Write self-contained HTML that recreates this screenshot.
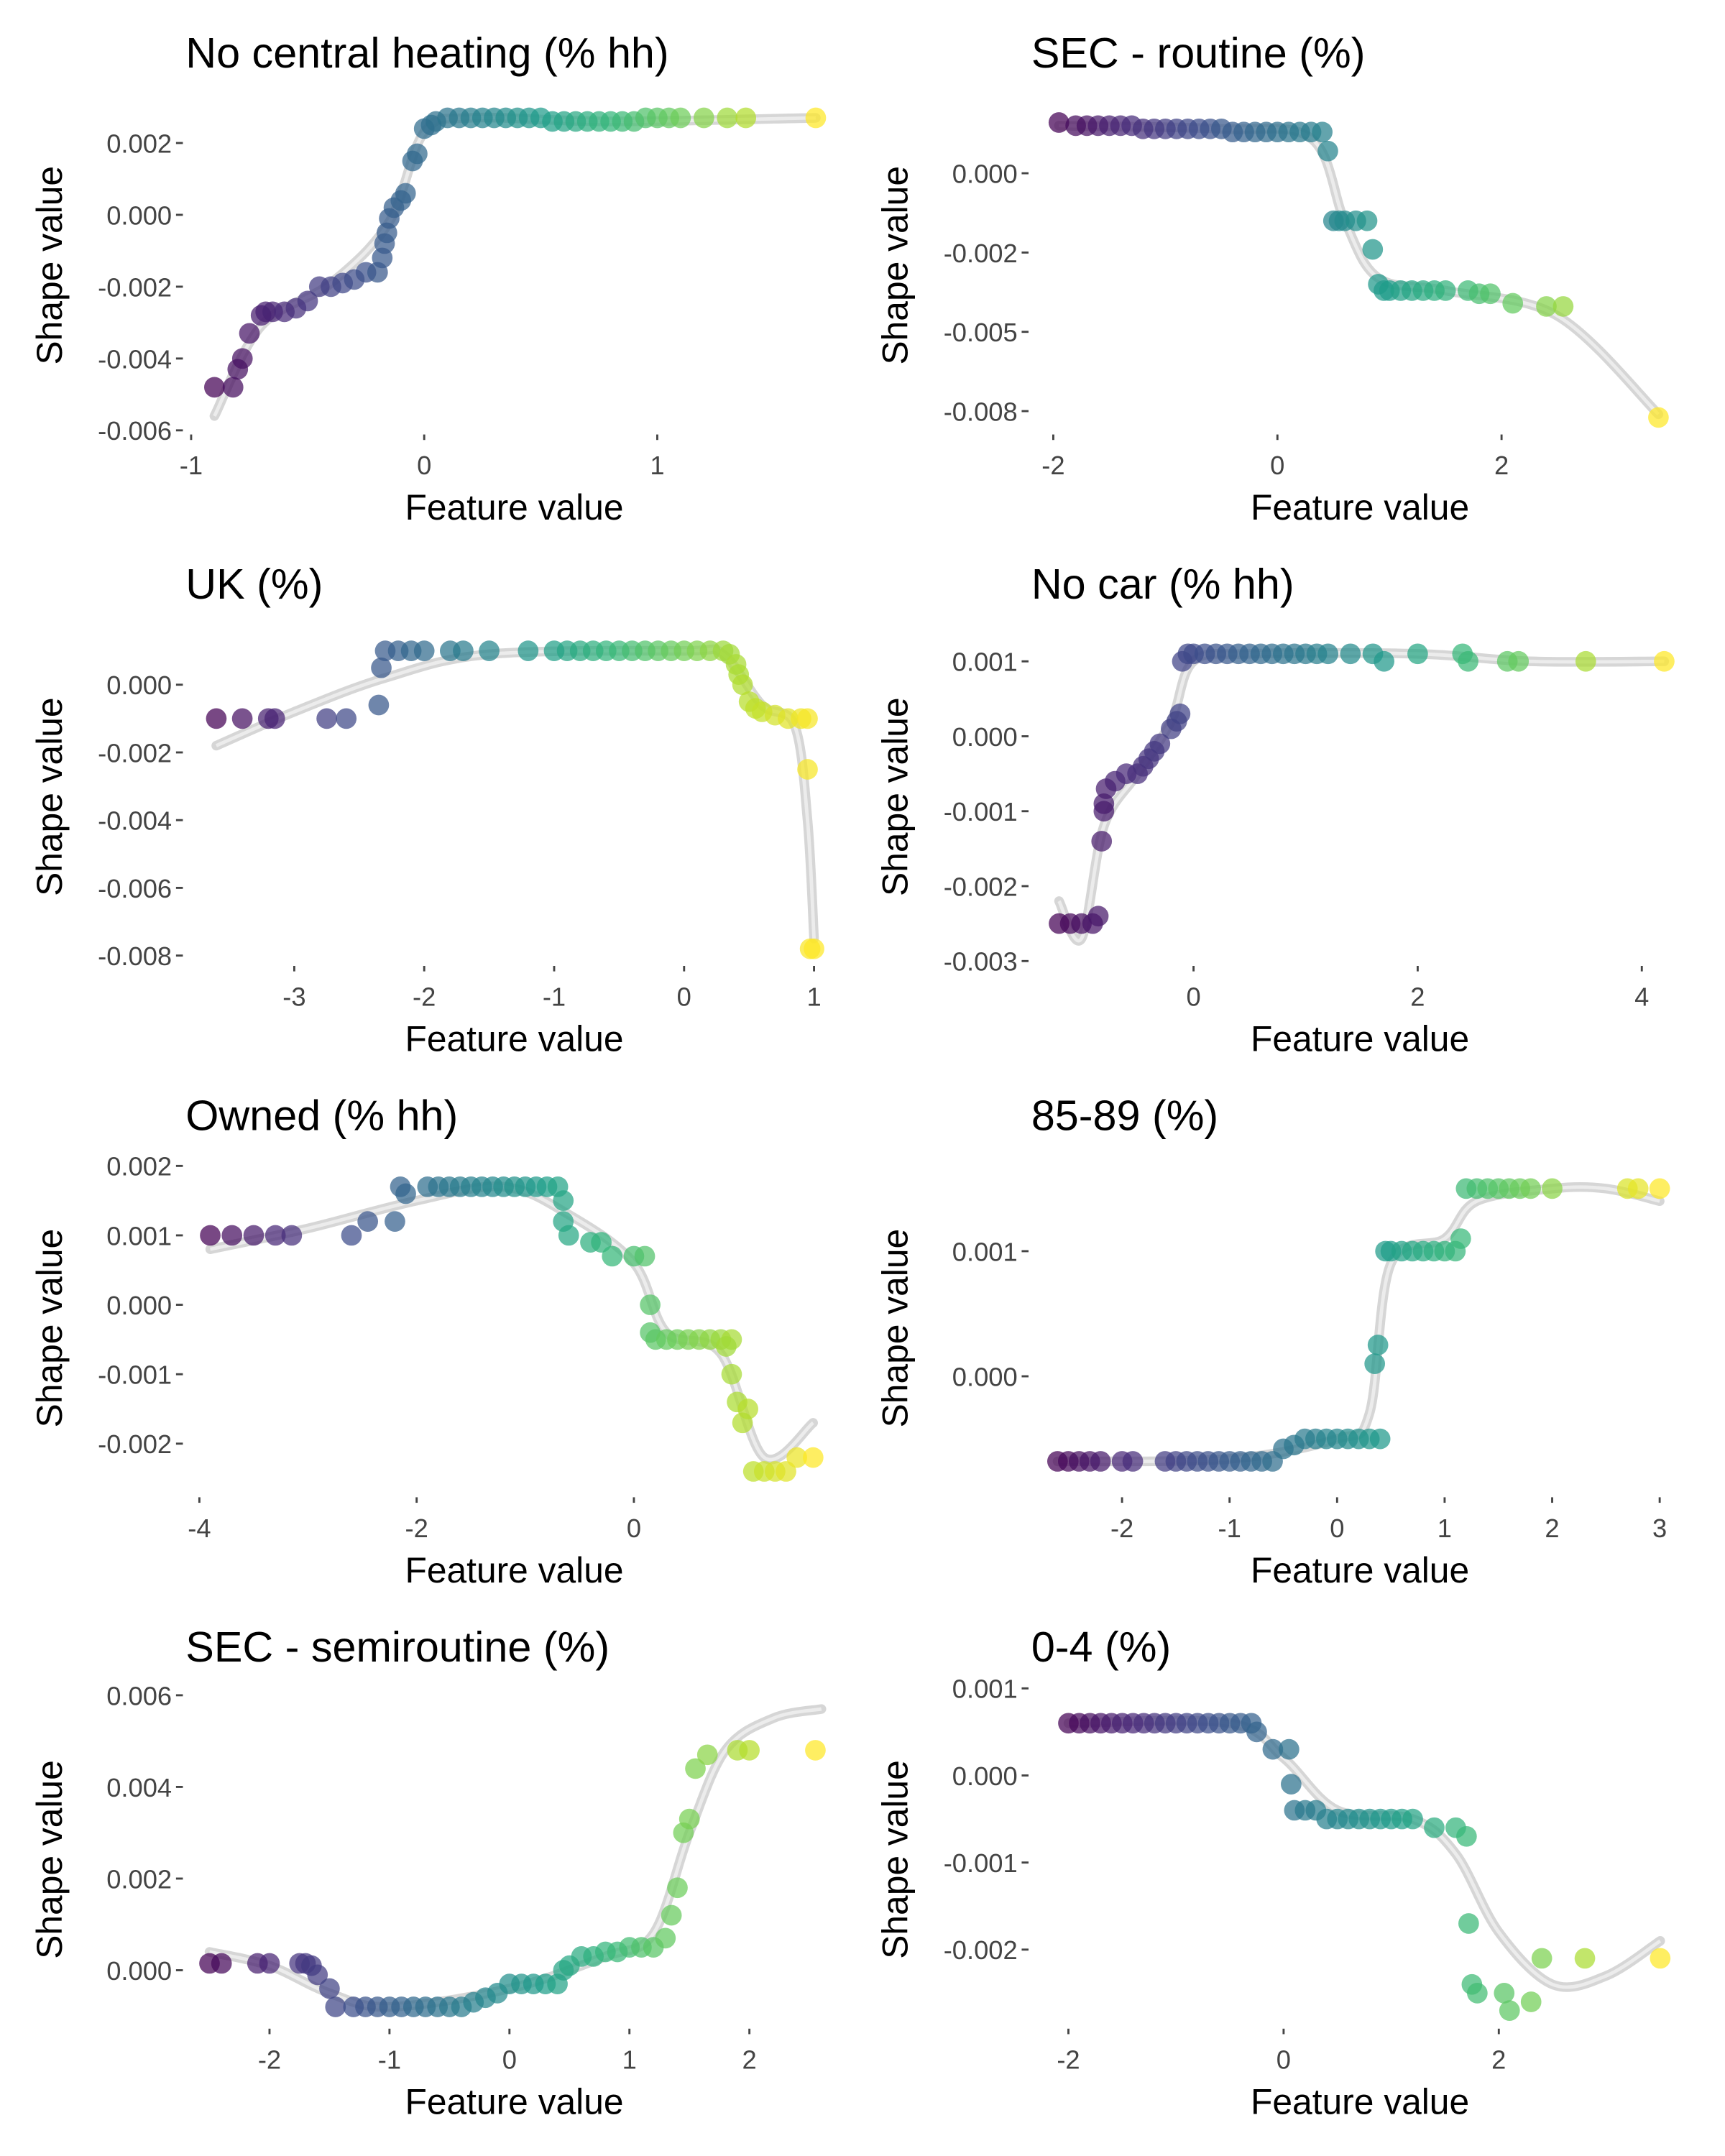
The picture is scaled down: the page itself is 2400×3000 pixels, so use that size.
<!DOCTYPE html>
<html><head><meta charset="utf-8"><style>
html,body{margin:0;padding:0;background:#fff}
svg{display:block}
text{font-family:"Liberation Sans",sans-serif}
</style></head><body>
<svg id="chart" width="2400" height="3000" viewBox="0 0 1254.5 1568.1" xmlns="http://www.w3.org/2000/svg"></svg>
<script>
// Panel 1: No central heating
const p1x=[-0.9,-0.82,-0.8,-0.78,-0.75,-0.7,-0.68,-0.65,-0.6,-0.55,-0.5,-0.45,-0.4,-0.35,-0.3,-0.25,-0.2,-0.18,-0.17,-0.16,-0.15,-0.13,-0.1,-0.08,-0.05,-0.03,0.0,0.03,0.05,0.1,0.15,0.2,0.25,0.3,0.35,0.4,0.45,0.5,0.55,0.6,0.65,0.7,0.75,0.8,0.85,0.9,0.95,1.0,1.05,1.1,1.2,1.3,1.38,1.68];
const p1y=[-0.0048,-0.0048,-0.0043,-0.004,-0.0033,-0.0028,-0.0027,-0.0027,-0.0027,-0.0026,-0.0024,-0.002,-0.002,-0.0019,-0.0018,-0.0016,-0.0016,-0.0012,-0.0008,-0.0005,-0.0001,0.0002,0.0004,0.0006,0.0015,0.0017,0.0024,0.0025,0.0026,0.0027,0.0027,0.0027,0.0027,0.0027,0.0027,0.0027,0.0027,0.0027,0.0026,0.0026,0.0026,0.0026,0.0026,0.0026,0.0026,0.0026,0.0027,0.0027,0.0027,0.0027,0.0027,0.0027,0.0027,0.0027];
const p1sx=[-0.9,-0.7,-0.4,-0.15,0.0,0.2,0.8,1.68];
const p1sy=[-0.0056,-0.0031,-0.0019,-0.0002,0.0023,0.0027,0.0026,0.0027];
// Panel 2: SEC - routine
const p2x=[-1.95,-1.8,-1.7,-1.6,-1.5,-1.4,-1.3,-1.2,-1.1,-1.0,-0.9,-0.8,-0.7,-0.6,-0.5,-0.4,-0.3,-0.2,-0.1,0.0,0.1,0.2,0.3,0.4,0.45,0.5,0.55,0.6,0.7,0.8,0.85,0.9,0.95,1.0,1.1,1.2,1.3,1.4,1.5,1.7,1.8,1.9,2.1,2.4,2.55,3.4];
const p2y=[0.0016,0.0015,0.0015,0.0015,0.0015,0.0015,0.0015,0.0014,0.0014,0.0014,0.0014,0.0014,0.0014,0.0014,0.0014,0.0013,0.0013,0.0013,0.0013,0.0013,0.0013,0.0013,0.0013,0.0013,0.0007,-0.0015,-0.0015,-0.0015,-0.0015,-0.0015,-0.0024,-0.0035,-0.0037,-0.0037,-0.0037,-0.0037,-0.0037,-0.0037,-0.0037,-0.0037,-0.0038,-0.0038,-0.0041,-0.0042,-0.0042,-0.0077];
const p2sx=[-1.95,-0.5,0.3,0.6,0.9,1.5,2.5,3.4];
const p2sy=[0.0015,0.0014,0.0011,-0.0015,-0.0033,-0.0037,-0.0045,-0.0076];
// Panel 3: UK
const p3x=[-3.6,-3.4,-3.2,-3.15,-2.75,-2.6,-2.35,-2.33,-2.3,-2.2,-2.1,-2.0,-1.8,-1.7,-1.5,-1.2,-1.0,-0.9,-0.8,-0.7,-0.6,-0.5,-0.4,-0.3,-0.2,-0.1,0.0,0.1,0.2,0.3,0.35,0.4,0.42,0.45,0.5,0.55,0.6,0.7,0.8,0.9,0.95,0.95,0.97,1.0];
const p3y=[-0.001,-0.001,-0.001,-0.001,-0.001,-0.001,-0.0006,0.0005,0.001,0.001,0.001,0.001,0.001,0.001,0.001,0.001,0.001,0.001,0.001,0.001,0.001,0.001,0.001,0.001,0.001,0.001,0.001,0.001,0.001,0.001,0.0009,0.0006,0.0003,0.0,-0.0005,-0.0007,-0.0008,-0.0009,-0.001,-0.001,-0.001,-0.0025,-0.0078,-0.0078];
const p3sx=[-3.6,-3.0,-2.3,-1.5,0.0,0.3,0.6,0.85,0.95,1.0];
const p3sy=[-0.0018,-0.0008,0.0002,0.0009,0.001,0.0009,-0.0006,-0.0012,-0.004,-0.0075];
// Panel 4: No car
const p4x=[-1.2,-1.1,-1.0,-0.9,-0.85,-0.82,-0.8,-0.8,-0.78,-0.7,-0.6,-0.5,-0.45,-0.4,-0.35,-0.3,-0.2,-0.15,-0.12,-0.1,-0.05,0.0,0.1,0.2,0.3,0.4,0.5,0.6,0.7,0.8,0.9,1.0,1.1,1.2,1.4,1.6,1.7,2.0,2.4,2.45,2.8,2.9,3.5,4.2];
const p4y=[-0.0025,-0.0025,-0.0025,-0.0025,-0.0024,-0.0014,-0.001,-0.0009,-0.0007,-0.0006,-0.0005,-0.0005,-0.0004,-0.0003,-0.0002,-0.0001,0.0001,0.0002,0.0003,0.001,0.0011,0.0011,0.0011,0.0011,0.0011,0.0011,0.0011,0.0011,0.0011,0.0011,0.0011,0.0011,0.0011,0.0011,0.0011,0.0011,0.001,0.0011,0.0011,0.001,0.001,0.001,0.001,0.001];
const p4sx=[-1.2,-1.0,-0.8,-0.5,-0.2,0.0,0.5,2.0,3.0,4.2];
const p4sy=[-0.0022,-0.0027,-0.0012,-0.0005,0.0002,0.001,0.0011,0.0011,0.001,0.001];
// Panel 5: Owned
const p5x=[-3.9,-3.7,-3.5,-3.3,-3.15,-2.6,-2.45,-2.2,-2.15,-2.1,-1.9,-1.8,-1.7,-1.6,-1.5,-1.4,-1.3,-1.2,-1.1,-1.0,-0.9,-0.8,-0.7,-0.65,-0.65,-0.6,-0.4,-0.3,-0.2,0.0,0.1,0.15,0.15,0.2,0.3,0.4,0.5,0.6,0.7,0.8,0.9,0.85,0.9,0.95,1.05,1.0,1.1,1.2,1.3,1.4,1.5,1.65];
const p5y=[0.001,0.001,0.001,0.001,0.001,0.001,0.0012,0.0012,0.0017,0.0016,0.0017,0.0017,0.0017,0.0017,0.0017,0.0017,0.0017,0.0017,0.0017,0.0017,0.0017,0.0017,0.0017,0.0015,0.0012,0.001,0.0009,0.0009,0.0007,0.0007,0.0007,0.0,-0.0004,-0.0005,-0.0005,-0.0005,-0.0005,-0.0005,-0.0005,-0.0005,-0.0005,-0.0006,-0.001,-0.0014,-0.0015,-0.0017,-0.0024,-0.0024,-0.0024,-0.0024,-0.0022,-0.0022];
const p5sx=[-3.9,-3.0,-2.0,-1.2,-0.6,0.0,0.3,0.8,1.2,1.65];
const p5sy=[0.0008,0.0011,0.0015,0.0017,0.0013,0.0006,-0.0004,-0.0007,-0.0022,-0.0017];
// Panel 6: 85-89
const p6x=[-2.6,-2.5,-2.4,-2.3,-2.2,-2.0,-1.9,-1.6,-1.5,-1.4,-1.3,-1.2,-1.1,-1.0,-0.9,-0.8,-0.7,-0.6,-0.5,-0.4,-0.3,-0.2,-0.1,0.0,0.1,0.2,0.3,0.4,0.35,0.38,0.45,0.5,0.6,0.7,0.8,0.9,1.0,1.1,1.15,1.2,1.3,1.4,1.5,1.6,1.7,1.8,2.0,2.7,2.8,3.0];
const p6y=[-0.00068,-0.00068,-0.00068,-0.00068,-0.00068,-0.00068,-0.00068,-0.00068,-0.00068,-0.00068,-0.00068,-0.00068,-0.00068,-0.00068,-0.00068,-0.00068,-0.00068,-0.00068,-0.00058,-0.00055,-0.0005,-0.0005,-0.0005,-0.0005,-0.0005,-0.0005,-0.0005,-0.0005,0.0001,0.00025,0.001,0.001,0.001,0.001,0.001,0.001,0.001,0.001,0.0011,0.0015,0.0015,0.0015,0.0015,0.0015,0.0015,0.0015,0.0015,0.0015,0.0015,0.0015];
const p6sx=[-2.6,-1.0,0.0,0.3,0.5,1.0,1.3,2.0,2.5,3.0];
const p6sy=[-0.00068,-0.00066,-0.0005,-0.0003,0.0009,0.0011,0.0014,0.0015,0.0015,0.0014];
// Panel 7: SEC - semiroutine
const p7x=[-2.5,-2.4,-2.1,-2.0,-1.75,-1.7,-1.65,-1.6,-1.5,-1.45,-1.3,-1.2,-1.1,-1.0,-0.9,-0.8,-0.7,-0.6,-0.5,-0.4,-0.3,-0.2,-0.1,0.0,0.1,0.2,0.3,0.4,0.45,0.5,0.6,0.7,0.8,0.9,1.0,1.1,1.2,1.3,1.35,1.4,1.45,1.5,1.55,1.65,1.9,2.0,2.55];
const p7y=[0.00015,0.00015,0.00015,0.00015,0.00015,0.00015,0.0001,-0.0001,-0.0004,-0.0008,-0.0008,-0.0008,-0.0008,-0.0008,-0.0008,-0.0008,-0.0008,-0.0008,-0.0008,-0.0008,-0.0007,-0.0006,-0.0005,-0.0003,-0.0003,-0.0003,-0.0003,-0.0003,0.0,0.0001,0.0003,0.0003,0.0004,0.0004,0.0005,0.0005,0.0005,0.0007,0.0012,0.0018,0.003,0.0033,0.0044,0.0047,0.0048,0.0048,0.0048];
const p7sx=[-2.5,-2.0,-1.5,-1.0,0.0,0.8,1.2,1.5,1.8,2.2,2.6];
const p7sy=[0.0004,0.0001,-0.0005,-0.0008,-0.0004,0.0003,0.0008,0.003,0.0048,0.0055,0.0057];
// Panel 8: 0-4
const p8x=[-2.0,-1.9,-1.8,-1.7,-1.6,-1.5,-1.4,-1.3,-1.2,-1.1,-1.0,-0.9,-0.8,-0.7,-0.6,-0.5,-0.4,-0.3,-0.25,-0.1,0.05,0.07,0.1,0.2,0.3,0.4,0.5,0.6,0.7,0.8,0.9,1.0,1.1,1.2,1.4,1.6,1.7,1.72,1.75,1.8,2.05,2.1,2.3,2.4,2.8,3.5];
const p8y=[0.0006,0.0006,0.0006,0.0006,0.0006,0.0006,0.0006,0.0006,0.0006,0.0006,0.0006,0.0006,0.0006,0.0006,0.0006,0.0006,0.0006,0.0006,0.0005,0.0003,0.0003,-0.0001,-0.0004,-0.0004,-0.0004,-0.0005,-0.0005,-0.0005,-0.0005,-0.0005,-0.0005,-0.0005,-0.0005,-0.0005,-0.0006,-0.0006,-0.0007,-0.0017,-0.0024,-0.0025,-0.0025,-0.0027,-0.0026,-0.0021,-0.0021,-0.0021];
const p8sx=[-2.0,-0.5,0.0,0.5,1.2,1.6,2.0,2.5,3.0,3.5];
const p8sy=[0.0006,0.0006,0.0002,-0.0004,-0.0005,-0.0009,-0.0018,-0.0024,-0.0023,-0.0019];

const titles=["No central heating (% hh)","SEC - routine (%)","UK (%)","No car (% hh)","Owned (% hh)","85-89 (%)","SEC - semiroutine (%)","0-4 (%)"];
const xTicks=[[-1,0,1],[-2,0,2],[-3,-2,-1,0,1],[0,2,4],[-4,-2,0],[-2,-1,0,1,2,3],[-2,-1,0,1,2],[-2,0,2]];
const yTicks=[[0.002,0,-0.002,-0.004,-0.006],[0,-0.0025,-0.005,-0.0075],[0,-0.002,-0.004,-0.006,-0.008],[0.001,0,-0.001,-0.002,-0.003],[0.002,0.001,0,-0.001,-0.002],[0.001,0],[0.006,0.004,0.002,0],[0.001,0,-0.001,-0.002]];
const yTickLabels=[["0.002","0.000","-0.002","-0.004","-0.006"],["0.000","-0.002","-0.005","-0.008"],["0.000","-0.002","-0.004","-0.006","-0.008"],["0.001","0.000","-0.001","-0.002","-0.003"],["0.002","0.001","0.000","-0.001","-0.002"],["0.001","0.000"],["0.006","0.004","0.002","0.000"],["0.001","0.000","-0.001","-0.002"]];
const XS=[p1x,p2x,p3x,p4x,p5x,p6x,p7x,p8x], YS=[p1y,p2y,p3y,p4y,p5y,p6y,p7y,p8y];
const SX=[p1sx,p2sx,p3sx,p4sx,p5sx,p6sx,p7sx,p8sx], SY=[p1sy,p2sy,p3sy,p4sy,p5sy,p6sy,p7sy,p8sy];

const cal=[[-1,139,1,478,0.002,104,-0.006,313],[-2,766,2,1092,0,126,-0.0075,299],
[-3,214,1,592,0,498,-0.008,695],[0,868,4,1194,0.001,481,-0.003,699],
[-4,145,0,461,0.002,848,-0.002,1050],[-2,816,3,1207,0.001,910,0,1001],
[-2,196,2,545,0.006,1233,0,1433],[-2,777,2,1090,0.001,1228,-0.002,1418]];

const VIR=["#440154","#482878","#3e4989","#31688e","#26828e","#1f9e89","#35b779","#6ece58","#b5de2b","#fde725"];
function hex(h){return [1,3,5].map(i=>parseInt(h.substr(i,2),16));}
function viridis(t){t=Math.max(0,Math.min(1,t));const f=t*(VIR.length-1),i=Math.min(Math.floor(f),VIR.length-2),r=f-i;const a=hex(VIR[i]),b=hex(VIR[i+1]);return `rgb(${a.map((v,k)=>Math.round(v+(b[k]-v)*r)).join(',')})`;}
const NS="http://www.w3.org/2000/svg", svg=document.getElementById('chart');
function el(tag,attrs,parent,txt){const e=document.createElementNS(NS,tag);for(const k in attrs)e.setAttribute(k,attrs[k]);if(txt!==undefined)e.textContent=txt;(parent||svg).appendChild(e);return e;}
function smoothPath(pts){let d=`M${pts[0][0]},${pts[0][1]}`;for(let i=0;i<pts.length-1;i++){const p0=pts[i-1]||pts[i],p1=pts[i],p2=pts[i+1],p3=pts[i+2]||p2;d+=` C${p1[0]+(p2[0]-p0[0])/6},${p1[1]+(p2[1]-p0[1])/6} ${p2[0]-(p3[0]-p1[0])/6},${p2[1]-(p3[1]-p1[1])/6} ${p2[0]},${p2[1]}`;}return d;}

for(let p=0;p<8;p++){
  const col=p%2,row=Math.floor(p/2),rowOff=row*386.5;
  const c=cal[p];
  const sx=v=>c[1]+(v-c[0])*(c[3]-c[1])/(c[2]-c[0]);
  const sy=v=>c[5]+(v-c[4])*(c[7]-c[5])/(c[6]-c[4]);
  const g=el('g',{});
  
  
  const left=col?750:135, yAxisX=col?748:133;
  const t=el('text',{x:left,y:49+rowOff,'font-size':31,fill:'#000'},g,titles[p]);
  
  
  yTicks[p].forEach((v,i)=>{
    const y=sy(v);
    const lab=el('text',{x:yAxisX-8,y:y+7,'font-size':19,fill:'#444','text-anchor':'end'},g,yTickLabels[p][i]);
    
    
    el('line',{x1:yAxisX-5,x2:yAxisX,y1:y,y2:y,stroke:'#444','stroke-width':1.5},g);
  });
  const xLabY=row*386.5+337;
  xTicks[p].forEach(v=>{
    const x=sx(v);
    el('line',{x1:x,x2:x,y1:xLabY-21,y2:xLabY-17,stroke:'#444','stroke-width':1.5},g);
    const lab=el('text',{x:x,y:xLabY+8,'font-size':19,fill:'#444','text-anchor':'middle'},g,String(v));
    
    
  });
  const xt=el('text',{x:col?989:374,y:378+rowOff,'font-size':26,fill:'#000','text-anchor':'middle'},g,'Feature value');
  
  
  const ycx=col?660:45, ycy=193+rowOff;
  const yt=el('text',{x:ycx,y:ycy,'font-size':26,fill:'#000','text-anchor':'middle',transform:`rotate(-90 ${ycx} ${ycy})`},g,'Shape value');
  
  
  const pts=SX[p].map((v,i)=>[sx(v),sy(SY[p][i])]);
  const band=el('path',{d:smoothPath(pts),fill:'none',stroke:'#d6d6d6','stroke-width':7,'stroke-linecap':'round'},g);
  
  
  const ln=el('path',{d:smoothPath(pts),fill:'none',stroke:'#ececec','stroke-width':2.5},g);
  
  
  const xs=XS[p],ys=YS[p],mn=Math.min(...xs),mx=Math.max(...xs);
  xs.forEach((v,i)=>{
    const ci=el('circle',{cx:sx(v),cy:sy(ys[i]),r:7.5,fill:viridis((v-mn)/(mx-mn)),'fill-opacity':0.72},g);
    
    
  });
}
</script>
</body></html>
